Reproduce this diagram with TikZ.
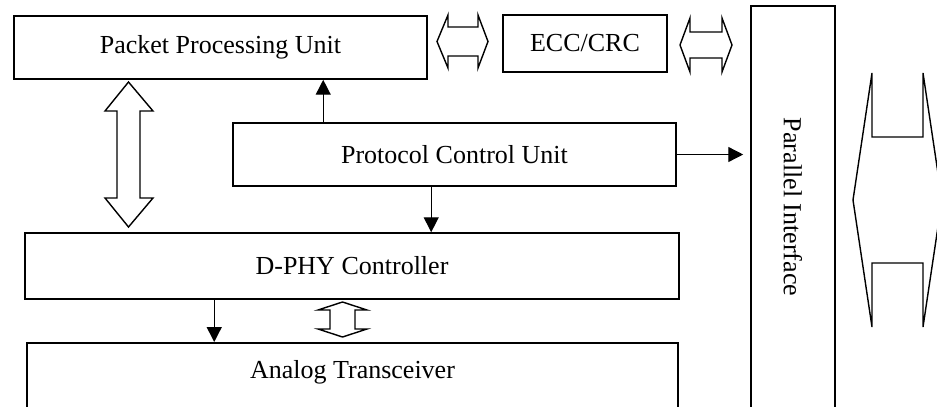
\documentclass[tikz,border=0pt]{standalone}
\usepackage{fontspec}
\setmainfont{Liberation Serif}
\usetikzlibrary{arrows.meta}
\tikzstyle{unit}=[draw, line width=0.9pt, inner sep=0pt, font=\fontsize{14.8}{18}\selectfont]
\tikzstyle{flow}=[line width=0.8pt, -{Triangle[length=8.5pt,width=8.5pt]}]
\tikzstyle{bus}=[draw, line width=0.8pt]
\begin{document}
\begin{tikzpicture}[x=0.02cm, y=-0.02cm]
   \useasboundingbox (0,0) rectangle (937,406);
   \clip (0,0) rectangle (937,406);
   \node[unit, minimum width=8.26cm, minimum height=1.26cm] (ppu) at (220.5,47.5) {Packet Processing Unit};
   \node[unit, minimum width=3.28cm, minimum height=1.14cm] (ecc) at (585,43.5) {ECC/CRC};
   \node[unit, minimum width=8.86cm, minimum height=1.26cm] (pcu) at (454.5,154.5) {Protocol Control Unit};
   \node[unit, minimum width=13.08cm, minimum height=1.32cm] (dphy) at (352,266) {D-PHY Controller};
   \node[unit, anchor=north, minimum width=13.02cm, minimum height=1.6cm, text height=10pt, text depth=14.5pt] (atx) at (352.5,342) {Analog Transceiver};
   \node[unit, rotate=-90, minimum width=8.04cm, minimum height=1.68cm] (par) at (793,207) {Parallel Interface};

   \draw[flow] ([xshift=1.82cm]pcu.north west) coordinate (up) -- (up |- ppu.south);
   \draw[flow] ([xshift=3.98cm]pcu.south west) coordinate (dn) -- (dn |- dphy.north);
   \draw[flow] ([xshift=3.8cm]dphy.south west) coordinate (tx) -- (tx |- atx.north);
   \draw[flow, shorten >=0.14cm] (pcu.east) -- (pcu.east -| par.south);

   \draw[bus] (128.5,82) -- (153,111) -- (140,111) -- (140,198) -- (153,198) -- (128.5,227)
      -- (105,198) -- (117,198) -- (117,111) -- (105,111) -- cycle;
   \draw[bus] (342.5,302) -- (367,310) -- (355,310) -- (355,329) -- (367,329) -- (342.5,337)
      -- (318,329) -- (330,329) -- (330,310) -- (318,310) -- cycle;
   \draw[bus] (437,41.5) -- (448,15) -- (448,27) -- (478,27) -- (478,15) -- (488,41.5)
      -- (478,68) -- (478,56) -- (448,56) -- (448,68) -- cycle;
   \draw[bus] (680,45) -- (690,18) -- (690,32) -- (722,32) -- (722,18) -- (732,45)
      -- (722,72) -- (722,58) -- (690,58) -- (690,72) -- cycle;
   \draw[bus] (853,200) -- (872,73) -- (872,137) -- (923,137) -- (923,73) -- (942,200)
      -- (923,327) -- (923,263) -- (872,263) -- (872,327) -- cycle;
\end{tikzpicture}
\end{document}
